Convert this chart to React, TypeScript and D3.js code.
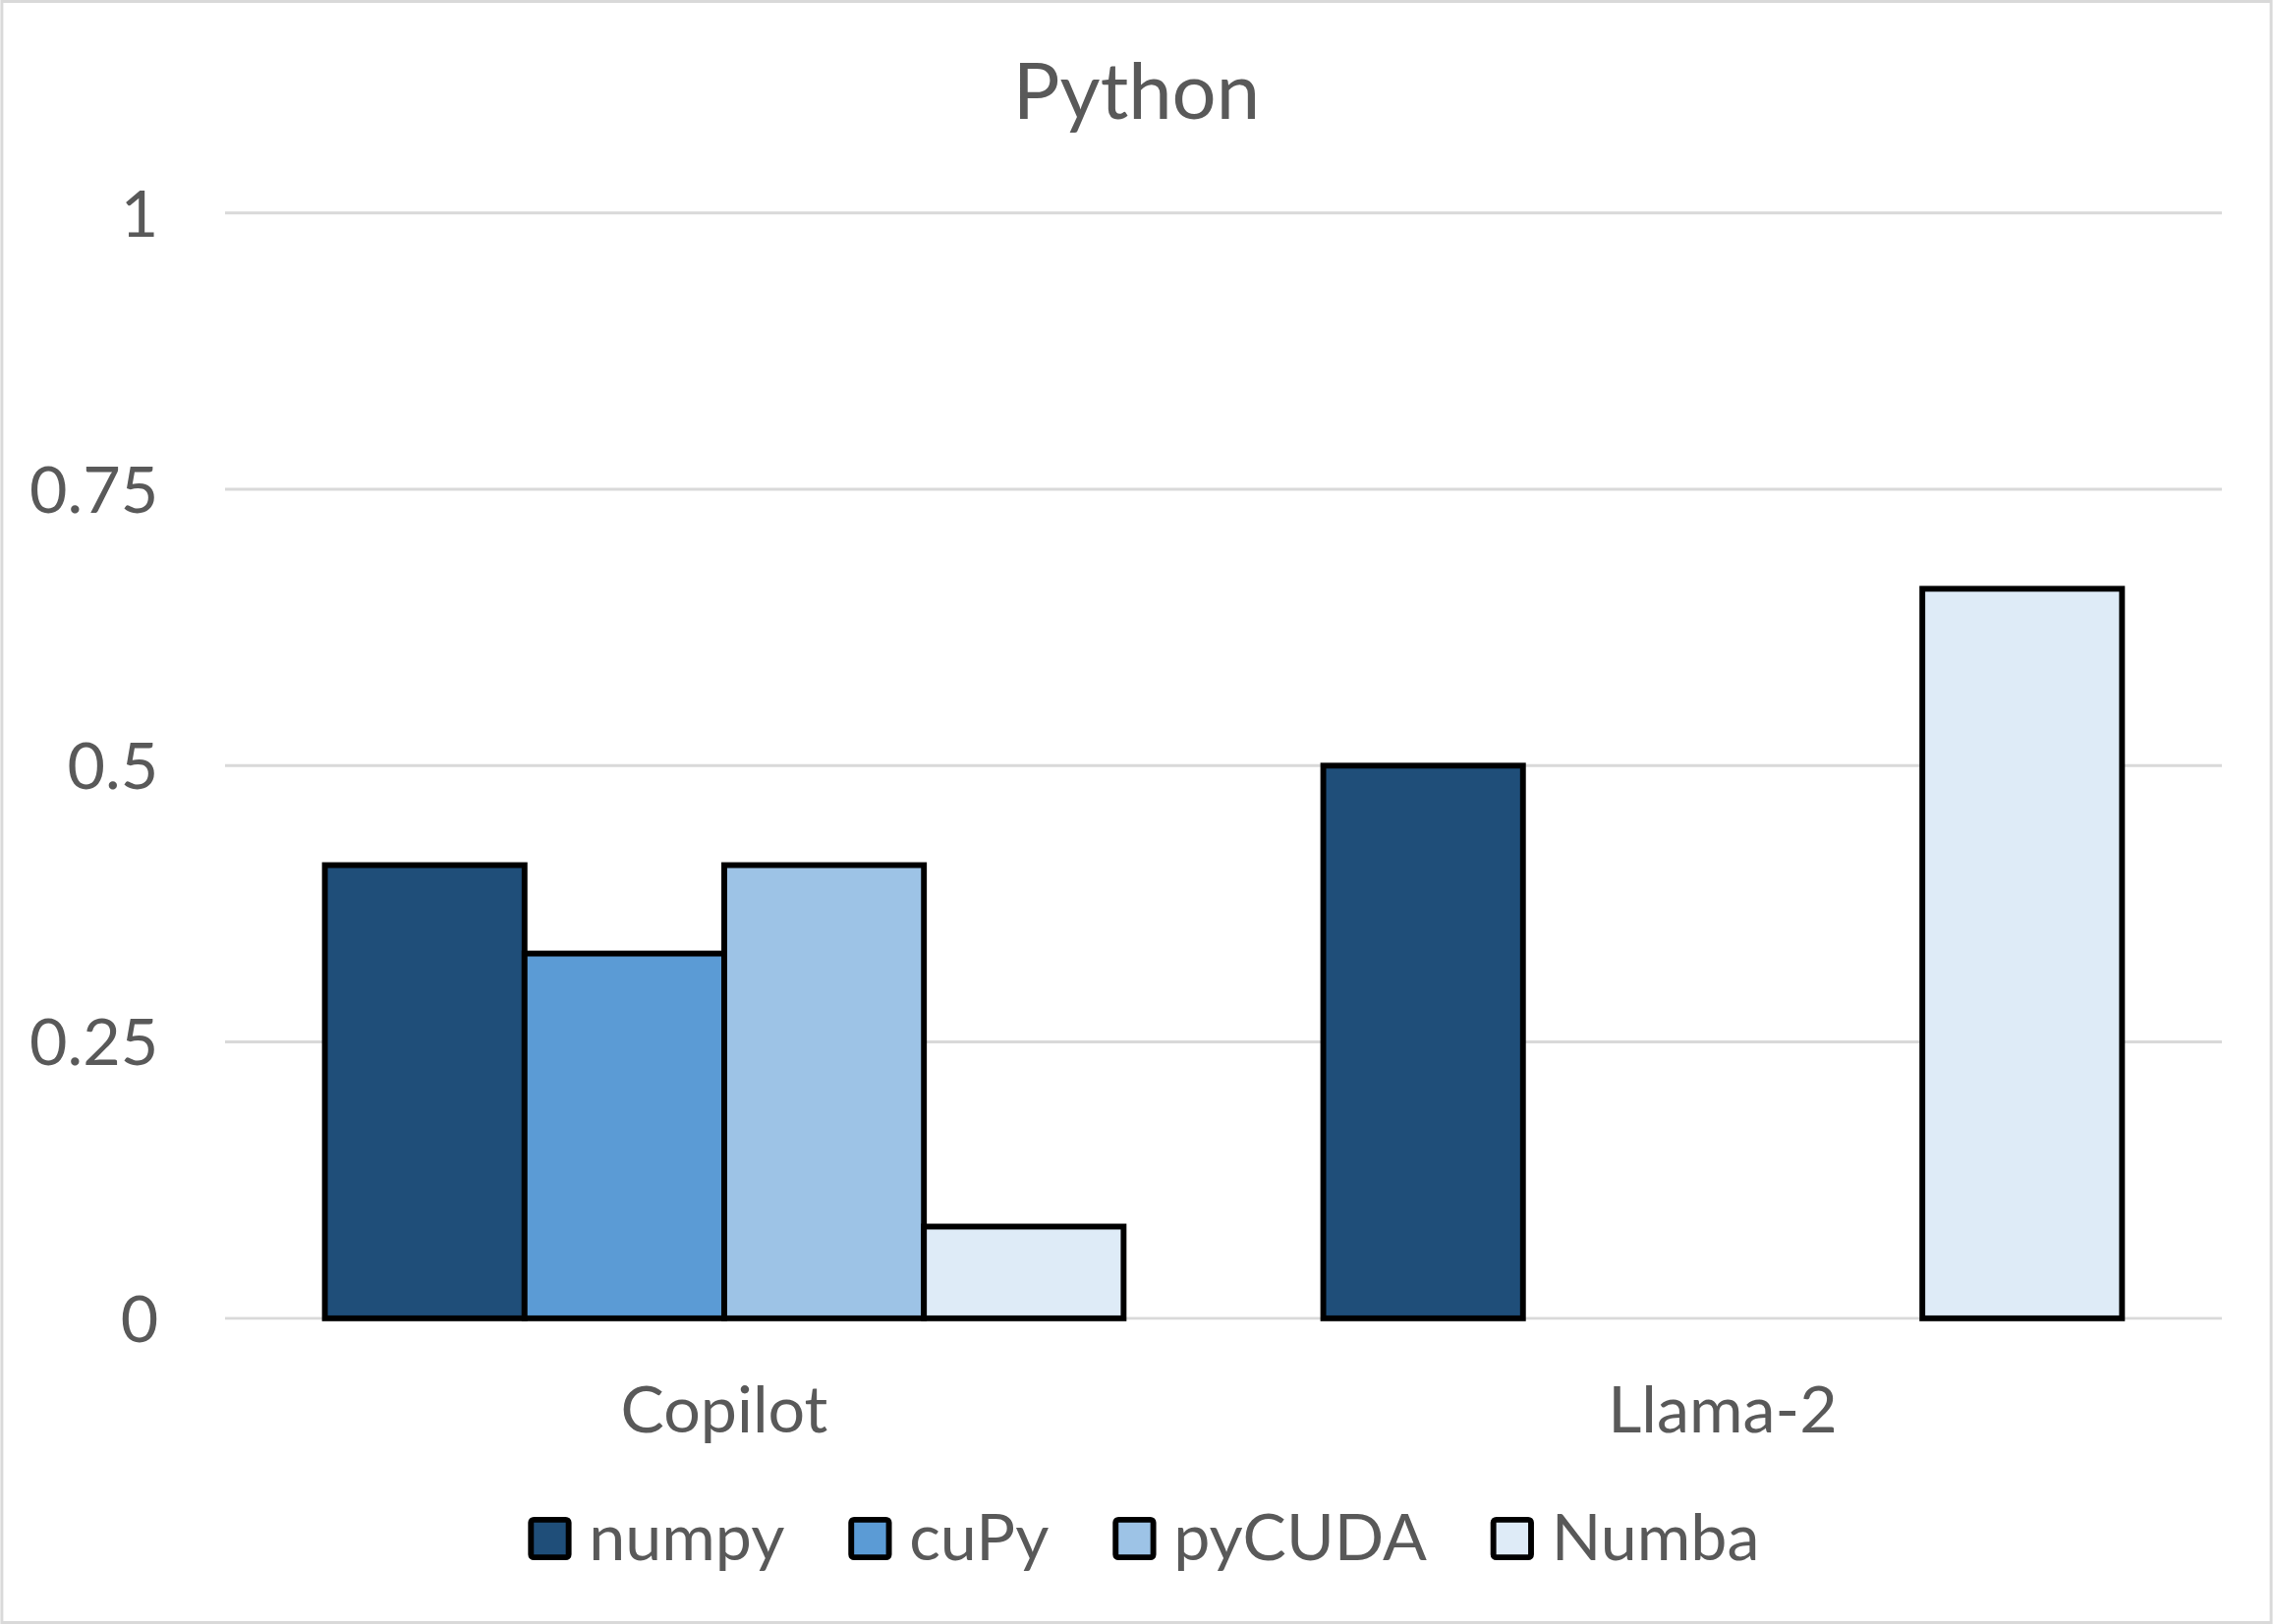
import React, { useEffect, useRef } from 'react';
import * as d3 from 'd3';

const categories = ['Copilot', 'Llama-2'];
const seriesNames = ['numpy', 'cuPy', 'pyCUDA', 'Numba'];
const seriesColors = ['#1F4E79', '#5B9BD5', '#9DC3E6', '#DEEBF7'];
const copilotValues = [0.41, 0.33, 0.41, 0.083];
const llamaValues = [0.5, 0, 0, 0.66];
const yTicks = [0, 0.25, 0.5, 0.75, 1];

const W = 1568;
const H = 1121;
const FONT = 'Lato, "Open Sans", sans-serif';
const TEXT = '#595959';

const App = () => {
  const rootRef = useRef<SVGSVGElement>(null);

  useEffect(() => {
    document.body.style.margin = '0';
    const svg = d3.select(rootRef.current);
    svg.selectAll('*').remove();

    const values = [copilotValues, llamaValues];
    const margin = { left: 155, right: 35, top: 147, bottom: 211 };

    svg
      .append('rect')
      .attr('x', 1)
      .attr('y', 1)
      .attr('width', W - 2)
      .attr('height', H - 2)
      .attr('fill', 'white')
      .attr('stroke', '#d9d9d9')
      .attr('stroke-width', 2);

    const x = d3
      .scaleBand<string>()
      .domain(categories)
      .range([margin.left, W - margin.right])
      .padding(0);
    const xs = d3
      .scaleBand<string>()
      .domain(seriesNames)
      .range([0, x.bandwidth()])
      .paddingInner(0)
      .paddingOuter(0.5);
    const y = d3
      .scaleLinear()
      .domain([0, 1])
      .range([H - margin.bottom, margin.top]);

    // gridlines
    svg
      .append('g')
      .selectAll('line')
      .data(yTicks)
      .enter()
      .append('line')
      .attr('x1', margin.left)
      .attr('x2', W - margin.right)
      .attr('y1', (d) => y(d))
      .attr('y2', (d) => y(d))
      .attr('stroke', '#d9d9d9')
      .attr('stroke-width', 2);

    svg
      .append('g')
      .selectAll('text')
      .data(yTicks)
      .enter()
      .append('text')
      .attr('x', 109)
      .attr('y', (d) => y(d))
      .attr('dy', '0.36em')
      .attr('text-anchor', 'end')
      .attr('font-family', FONT)
      .attr('font-size', 45)
      .attr('fill', TEXT)
      .text((d) => String(d));

    // bars
    categories.forEach((cat, ci) => {
      const g = svg.append('g').attr('transform', `translate(${x(cat)},0)`);
      g.selectAll('rect')
        .data(values[ci].map((v, si) => ({ v, s: seriesNames[si], c: seriesColors[si] })).filter((d) => d.v > 0))
        .enter()
        .append('rect')
        .attr('x', (d) => xs(d.s) as number)
        .attr('width', xs.bandwidth())
        .attr('y', (d) => y(d.v))
        .attr('height', (d) => y(0) - y(d.v))
        .attr('fill', (d) => d.c)
        .attr('stroke', 'black')
        .attr('stroke-width', 4);
    });

    // category labels
    svg
      .append('g')
      .selectAll('text')
      .data(categories)
      .enter()
      .append('text')
      .attr('x', (d) => (x(d) as number) + x.bandwidth() / 2)
      .attr('y', 989)
      .attr('text-anchor', 'middle')
      .attr('font-family', FONT)
      .attr('font-size', 45)
      .attr('fill', TEXT)
      .text((d) => d);

    // title
    svg
      .append('text')
      .attr('x', W / 2)
      .attr('y', 82)
      .attr('text-anchor', 'middle')
      .attr('font-family', FONT)
      .attr('font-size', 54)
      .attr('fill', TEXT)
      .text('Python');

    // legend
    const legend = svg.append('g');
    const items = seriesNames.map((name, i) => {
      const it = legend.append('g');
      it.append('rect')
        .attr('x', 2)
        .attr('y', 1062 - 13)
        .attr('width', 26)
        .attr('height', 26)
        .attr('fill', seriesColors[i])
        .attr('stroke', 'black')
        .attr('stroke-width', 4)
        .attr('rx', 2);
      const t = it
        .append('text')
        .attr('x', 42)
        .attr('y', 1077)
        .attr('font-family', FONT)
        .attr('font-size', 45)
        .attr('fill', TEXT)
        .text(name);
      const w = (t.node() as SVGTextElement).getComputedTextLength();
      return { it, w: 42 + w };
    });
    const gap = 44;
    const total = d3.sum(items, (d) => d.w) + gap * (items.length - 1);
    let cx = 791 - total / 2;
    items.forEach((d) => {
      d.it.attr('transform', `translate(${cx - 2},0)`);
      cx += d.w + gap;
    });
  }, []);

  return <svg ref={rootRef} width={2313} height={1653} viewBox={`0 0 ${W} ${H}`} style={{ display: 'block' }}></svg>;
};

export default App;
